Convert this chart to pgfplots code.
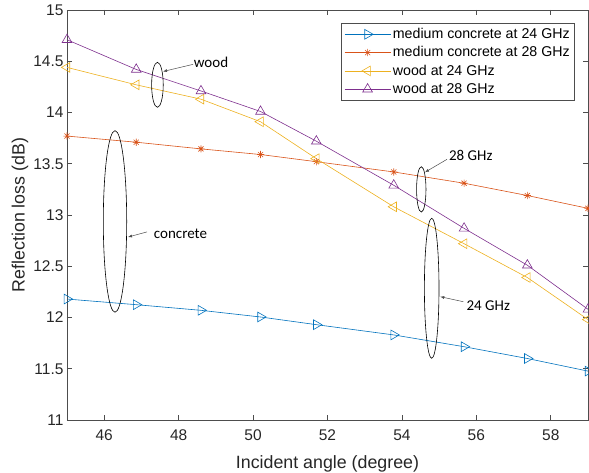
\documentclass[border=0pt]{standalone}
\usepackage{pgfplots}
\pgfplotsset{compat=1.18}
\usepackage{fontspec}
\setmainfont{Liberation Sans}
\newfontfamily\annfont{Carlito}
\usetikzlibrary{arrows.meta}
\definecolor{mblue}{HTML}{0072BD}
\definecolor{morange}{HTML}{D95319}
\definecolor{myellow}{HTML}{EDB120}
\definecolor{mpurple}{HTML}{7E2F8E}
\definecolor{axgray}{HTML}{4D4D4D}
\definecolor{txtgray}{HTML}{262626}
\pgfdeclareplotmark{star8}{%
  \pgfpathmoveto{\pgfqpoint{-\pgfplotmarksize}{0pt}}\pgfpathlineto{\pgfqpoint{\pgfplotmarksize}{0pt}}%
  \pgfpathmoveto{\pgfqpoint{0pt}{-\pgfplotmarksize}}\pgfpathlineto{\pgfqpoint{0pt}{\pgfplotmarksize}}%
  \pgfpathmoveto{\pgfqpoint{-0.707\pgfplotmarksize}{-0.707\pgfplotmarksize}}\pgfpathlineto{\pgfqpoint{0.707\pgfplotmarksize}{0.707\pgfplotmarksize}}%
  \pgfpathmoveto{\pgfqpoint{-0.707\pgfplotmarksize}{0.707\pgfplotmarksize}}\pgfpathlineto{\pgfqpoint{0.707\pgfplotmarksize}{-0.707\pgfplotmarksize}}%
  \pgfusepathqstroke}
\begin{document}
\begin{tikzpicture}
  \begin{axis}[
    scale only axis,
    width=521pt, height=410pt,
    xmin=45, xmax=59, ymin=11, ymax=15,
    xtick={46,48,...,58},
    ytick={11,11.5,...,15},
    yticklabel style={/pgf/number format/.cd,fixed,precision=1},
    /pgf/number format/assume math mode=true,
    tick align=inside,
    major tick length=5pt,
    axis line style={axgray, line width=0.6pt},
    every tick/.style={axgray, line width=0.6pt},
    tick label style={font=\fontsize{15.5}{18}\selectfont, text=txtgray},
    xticklabel style={yshift=-6pt},
    xlabel={Incident angle (degree)},
    ylabel={Reflection loss (dB)},
    label style={font=\fontsize{17.8}{20}\selectfont, text=txtgray},
    xlabel style={yshift=-8pt},
    ylabel style={yshift=-2pt},
    legend style={at={(rel axis cs:0.975,0.968)}, anchor=north east,
      font=\fontsize{14.2}{16}\selectfont, draw=axgray, line width=0.6pt,
      inner sep=3pt, row sep=2.5pt, cells={anchor=west}},
    legend image code/.code={
      \draw[mark repeat=2,mark phase=2] plot coordinates {(0pt,0pt) (23pt,0pt) (46pt,0pt)};},
    clip=true,
  ]
    \addplot[mblue, line width=0.6pt, mark=triangle, mark size=5.6pt, mark options={rotate=-90, solid}]
      coordinates {(45,12.18) (46.86,12.125) (48.6,12.07) (50.2,12.005) (51.7,11.93)
        (53.78,11.83) (55.67,11.715) (57.37,11.60) (59,11.477)};
    \addlegendentry{medium concrete at 24 GHz}
    \addplot[morange, line width=0.6pt, mark=star8, mark size=3.6pt]
      coordinates {(45,13.77) (46.86,13.71) (48.6,13.645) (50.2,13.59) (51.7,13.52)
        (53.78,13.42) (55.67,13.31) (57.37,13.19) (59,13.065)};
    \addlegendentry{medium concrete at 28 GHz}
    \addplot[myellow, line width=0.6pt, mark=triangle, mark size=5.6pt, mark options={rotate=90}]
      coordinates {(45,14.44) (46.86,14.27) (48.6,14.13) (50.2,13.91) (51.7,13.55)
        (53.78,13.08) (55.67,12.72) (57.37,12.39) (59,11.98)};
    \addlegendentry{wood at 24 GHz}
    \addplot[mpurple, line width=0.6pt, mark=triangle, mark size=5.6pt]
      coordinates {(45,14.71) (46.86,14.42) (48.6,14.21) (50.2,14.01) (51.7,13.72)
        (53.78,13.29) (55.67,12.87) (57.37,12.51) (59,12.08)};
    \addlegendentry{wood at 28 GHz}

    % annotation ellipses
    \draw[black, line width=0.6pt] (axis cs:47.43,14.27) ellipse [x radius=5.8pt, y radius=22.5pt];
    \draw[black, line width=0.6pt] (axis cs:46.29,12.937) ellipse [x radius=11.7pt, y radius=90.8pt];
    \draw[black, line width=0.6pt] (axis cs:54.52,13.25) ellipse [x radius=4.7pt, y radius=22.7pt];
    \draw[black, line width=0.6pt] (axis cs:54.80,12.285) ellipse [x radius=7.3pt, y radius=70pt];
    % arrows
    \draw[black!70, line width=0.5pt, -{Latex[length=4pt,width=3pt]}] (axis cs:48.39,14.47) -- (axis cs:47.58,14.40);
    \draw[black!70, line width=0.5pt, -{Latex[length=4pt,width=3pt]}] (axis cs:47.15,12.835) -- (axis cs:46.64,12.785);
    \draw[black!70, line width=0.5pt, -{Latex[length=4pt,width=3pt]}] (axis cs:55.21,13.543) -- (axis cs:54.62,13.417);
    \draw[black!70, line width=0.5pt, -{Latex[length=4pt,width=3pt]}] (axis cs:55.65,12.154) -- (axis cs:55.03,12.203);
    % labels
    \node[font=\annfont\fontsize{15}{17}\selectfont] at (axis cs:48.87,14.49) {wood};
    \node[font=\annfont\fontsize{15}{17}\selectfont] at (axis cs:48.05,12.815) {concrete};
    \node[font=\annfont\fontsize{15}{17}\selectfont] at (axis cs:55.85,13.585) {28 GHz};
    \node[font=\annfont\fontsize{15}{17}\selectfont] at (axis cs:56.32,12.12) {24 GHz};

    \coordinate (ll) at (rel axis cs:0,0);
    \coordinate (ur) at (rel axis cs:1,1);
  \end{axis}
  \pgfresetboundingbox
  \path[use as bounding box] ([shift={(-67pt,-53pt)}]ll) rectangle ([shift={(1pt,10pt)}]ur);
\end{tikzpicture}
\end{document}
